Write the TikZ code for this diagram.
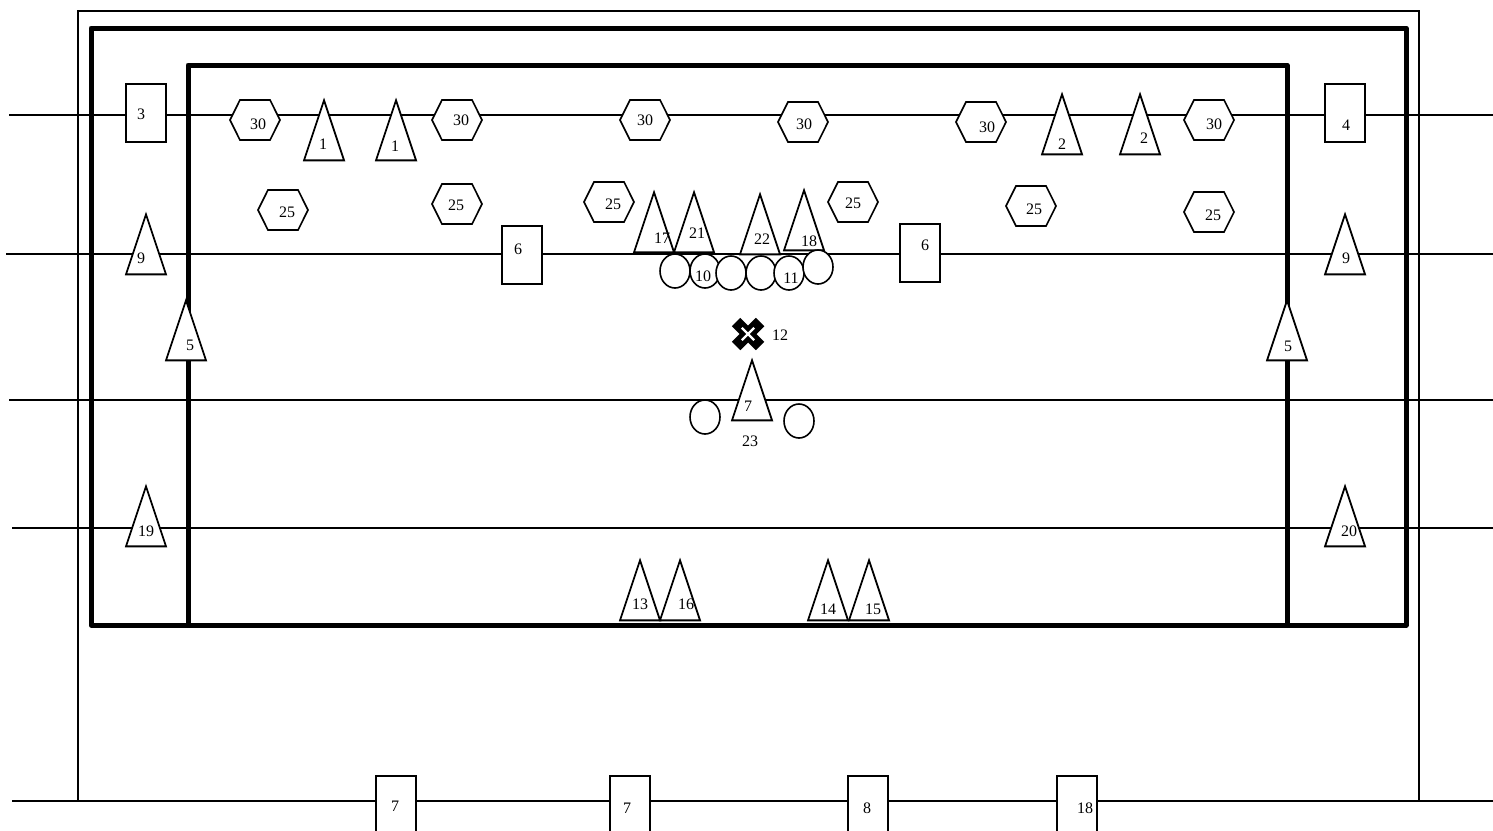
\documentclass[tikz,border=0pt]{standalone}
\usepackage{fontspec}
\setmainfont{Liberation Serif}
\usetikzlibrary{shapes.geometric,shapes.symbols,shapes.misc}

\tikzset{
    wire/.style={line width=1.3pt},
    thinwall/.style={line width=1pt},
    thickwall/.style={line width=2.5pt, line join=round},
    rectbox/.style={rectangle, draw, fill=white, line width=0.7pt, inner sep=0pt, minimum width=20pt, minimum height=29pt},
    hexbox/.style={signal, signal to=east and west, signal pointer angle=127, draw, fill=white, line width=0.8pt, inner sep=0pt, minimum width=25pt, minimum height=20pt},
    tribox/.style={isosceles triangle, isosceles triangle stretches, shape border rotate=90, draw, fill=white, line width=0.9pt, inner sep=0pt, minimum width=20pt, minimum height=30pt, anchor=apex, yshift=1pt},
    roundbox/.style={ellipse, draw, fill=white, line width=0.8pt, inner sep=0pt, minimum width=15pt, minimum height=17pt},
    num/.style={font=\fontsize{8}{9}\selectfont, inner sep=0pt}
}

\begin{document}
\begin{tikzpicture}[x=0.5pt, y=-0.5pt]
        \clip (0,0) rectangle (1493,830);
        % walls
        \draw[thinwall] (78,801) -- (78,11) -- (1419,11) -- (1419,801);
        \draw[thickwall] (91,28) rectangle (1406,625);
        \draw[thickwall] (188,625) -- (188,65) -- (1287,65) -- (1287,625);
        % wires
        \coordinate (rowa-w) at (9,115);
        \coordinate (rowa-e) at (1493,115);
        \coordinate (rowb-w) at (6,254);
        \coordinate (rowb-e) at (1493,254);
        \coordinate (rowc-w) at (9,400);
        \coordinate (rowc-e) at (1493,400);
        \coordinate (rowd-w) at (12,528);
        \coordinate (rowd-e) at (1493,528);
        \coordinate (rowe-w) at (12,801);
        \coordinate (rowe-e) at (1493,801);
        \draw[wire] (rowa-w) -- (rowa-e);
        \draw[wire] (rowb-w) -- (rowb-e);
        \draw[wire] (rowc-w) -- (rowc-e);
        \draw[wire] (rowd-w) -- (rowd-e);
        \draw[wire] (rowe-w) -- (rowe-e);
        % boxes
        \node[rectbox] (boxa) at (146,113) {}; \node[num] (boxa-n) at (141,114) {3};
        \node[rectbox] (boxb) at (1345,113) {}; \node[num] (boxb-n) at (1346,125) {4};
        \node[rectbox] (boxc) at (522,255) {}; \node[num] (boxc-n) at (518,249) {6};
        \node[rectbox] (boxd) at (920,253) {}; \node[num] (boxd-n) at (925,245) {6};
        \node[rectbox] (boxe) at (396,805) {}; \node[num] (boxe-n) at (395,806) {7};
        \node[rectbox] (boxf) at (630,805) {}; \node[num] (boxf-n) at (627,808) {7};
        \node[rectbox] (boxg) at (868,805) {}; \node[num] (boxg-n) at (867,808) {8};
        \node[rectbox] (boxh) at (1077,805) {}; \node[num] (boxh-n) at (1085,808) {18};
        % upper hexagons
        \node[hexbox] (hexa) at (255,120) {}; \node[num] (hexa-n) at (258,124) {30};
        \node[hexbox] (hexb) at (457,120) {}; \node[num] (hexb-n) at (461,120) {30};
        \node[hexbox] (hexc) at (645,120) {}; \node[num] (hexc-n) at (645,120) {30};
        \node[hexbox] (hexd) at (803,122) {}; \node[num] (hexd-n) at (804,124) {30};
        \node[hexbox] (hexe) at (981,122) {}; \node[num] (hexe-n) at (987,127) {30};
        \node[hexbox] (hexf) at (1209,120) {}; \node[num] (hexf-n) at (1214,124) {30};
        % lower hexagons
        \node[hexbox] (hexg) at (283,210) {}; \node[num] (hexg-n) at (287,212) {25};
        \node[hexbox] (hexh) at (457,204) {}; \node[num] (hexh-n) at (456,205) {25};
        \node[hexbox] (hexi) at (609,202) {}; \node[num] (hexi-n) at (613,204) {25};
        \node[hexbox] (hexj) at (853,202) {}; \node[num] (hexj-n) at (853,203) {25};
        \node[hexbox] (hexk) at (1031,206) {}; \node[num] (hexk-n) at (1034,209) {25};
        \node[hexbox] (hexl) at (1209,212) {}; \node[num] (hexl-n) at (1213,215) {25};
        % triangles
        \node[tribox] (tria) at (324,100) {}; \node[num] (tria-n) at (323,144) {1};
        \node[tribox] (trib) at (396,100) {}; \node[num] (trib-n) at (395,146) {1};
        \node[tribox] (tric) at (1062,94) {}; \node[num] (tric-n) at (1062,144) {2};
        \node[tribox] (trid) at (1140,94) {}; \node[num] (trid-n) at (1144,138) {2};
        \node[tribox] (trie) at (146,214) {}; \node[num] (trie-n) at (141,258) {9};
        \node[tribox] (trif) at (1345,214) {}; \node[num] (trif-n) at (1346,258) {9};
        \node[tribox] (trig) at (186,300) {}; \node[num] (trig-n) at (190,345) {5};
        \node[tribox] (trih) at (1287,300) {}; \node[num] (trih-n) at (1288,346) {5};
        \node[tribox] (trii) at (146,486) {}; \node[num] (trii-n) at (146,531) {19};
        \node[tribox] (trij) at (1345,486) {}; \node[num] (trij-n) at (1349,531) {20};
        \node[tribox] (trik) at (752,360) {}; \node[num] (trik-n) at (748,406) {7};
        \node[tribox] (tril) at (654,192) {}; \node[num] (tril-n) at (662,238) {17};
        \node[tribox] (trim) at (694,192) {}; \node[num] (trim-n) at (697,233) {21};
        \node[tribox] (trin) at (760,194) {}; \node[num] (trin-n) at (762,239) {22};
        \node[tribox] (trio) at (804,190) {}; \node[num] (trio-n) at (809,241) {18};
        \node[tribox] (trip) at (640,560) {}; \node[num] (trip-n) at (640,604) {13};
        \node[tribox] (triq) at (680,560) {}; \node[num] (triq-n) at (686,604) {16};
        \node[tribox] (trir) at (828,560) {}; \node[num] (trir-n) at (828,609) {14};
        \node[tribox] (tris) at (869,560) {}; \node[num] (tris-n) at (873,609) {15};
        % circles
        \node[roundbox] (cira) at (675,271) {};
        \node[roundbox] (cirb) at (705,271) {}; \node[num] (cirb-n) at (703,276) {10};
        \node[roundbox] (circ) at (731,273) {};
        \node[roundbox] (cird) at (761,273) {};
        \node[roundbox] (cire) at (789,273) {}; \node[num] (cire-n) at (791,278) {11};
        \node[roundbox] (cirf) at (818,267) {};
        \node[roundbox] (cirg) at (705,417) {};
        \node[roundbox] (cirh) at (799,421) {};
        \node[num] (cirlabel) at (750,441) {23};
        % centre mark
        \node[cross out, draw=black, line width=6pt, minimum size=6pt, inner sep=0pt] (marka) at (748,334) {};
        \node[cross out, draw=white, line width=1.2pt, minimum size=5pt, inner sep=0pt] (markb) at (748,334) {};
        \node[num] (marka-n) at (780,335) {12};
    \end{tikzpicture}
\end{document}
